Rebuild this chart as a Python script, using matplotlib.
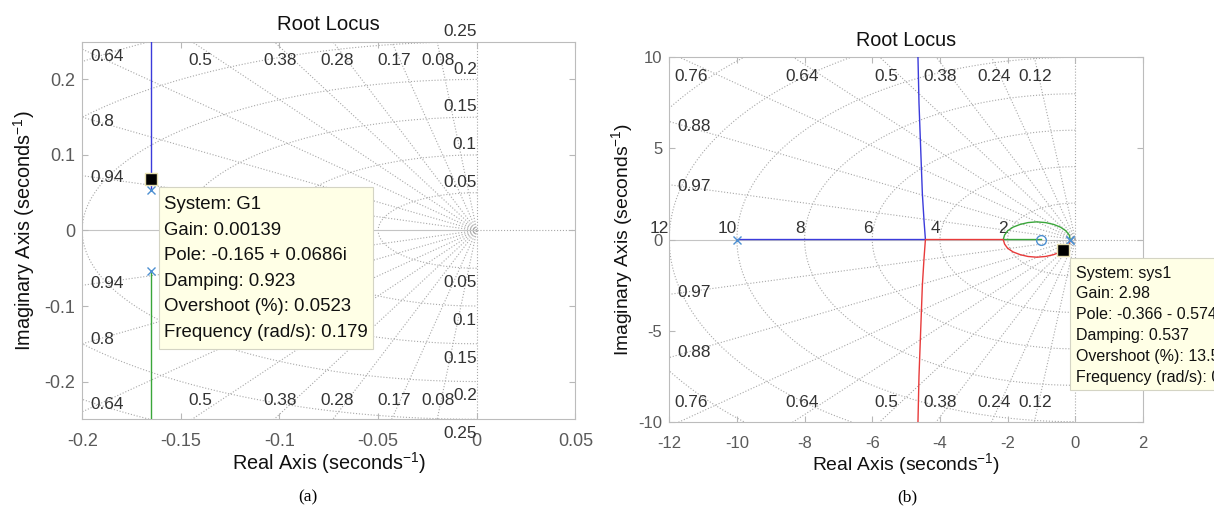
#
# Two root locus plots (MATLAB style) with s-plane grid and data tips.
#

import numpy as np
import matplotlib
matplotlib.use('Agg')
from matplotlib import pyplot as plt
from matplotlib.patches import Rectangle

plt.rcParams['font.family'] = ['Liberation Sans', 'DejaVu Sans']
plt.rcParams['mathtext.fontset'] = 'custom'
plt.rcParams['mathtext.rm'] = 'Liberation Sans'
plt.rcParams['mathtext.it'] = 'Liberation Sans:italic'
plt.rcParams['axes.unicode_minus'] = False

# ---- (a) system G1 ----
a_xlim = [-0.2, 0.05]
a_ylim = [-0.25, 0.25]
a_xticks = [-0.2, -0.15, -0.1, -0.05, 0, 0.05]
a_yticks = [-0.2, -0.1, 0, 0.1, 0.2]
a_zeta = [0.08, 0.17, 0.28, 0.38, 0.5, 0.64, 0.8, 0.94]
a_wn = [0.05, 0.1, 0.15, 0.2, 0.25]
a_wn_nolabel = [0.3]
a_pole_re = [-0.165, -0.165]
a_pole_im = [0.053, -0.053]
a_up_re = [-0.165, -0.165]      # blue branch
a_up_im = [0.053, 0.26]
a_dn_re = [-0.165, -0.165]      # green branch
a_dn_im = [-0.053, -0.26]
a_tip_re = -0.165
a_tip_im = 0.0686
a_tip_text = ['System: G1', 'Gain: 0.00139', 'Pole: -0.165 + 0.0686i',
              'Damping: 0.923', 'Overshoot (%): 0.0523', 'Frequency (rad/s): 0.179']

# ---- (b) system sys1 ----
b_xlim = [-12, 2]
b_ylim = [-10, 10]
b_xticks = [-12, -10, -8, -6, -4, -2, 0, 2]
b_yticks = [-10, -5, 0, 5, 10]
b_zeta = [0.12, 0.24, 0.38, 0.5, 0.64, 0.76, 0.88, 0.97]
b_wn = [2, 4, 6, 8, 10, 12]
b_wn_nolabel = [14]
b_pole_re = [-10, -0.15, -0.15]
b_pole_im = [0, 0, 0]
b_zero_re = [-1.0]
b_zero_im = [0]
# blue: pole at -10 -> breakaway -> up
b_blue_re = [-10, -4.43, -4.47, -4.52, -4.57, -4.62, -4.65, -4.67]
b_blue_im = [0, 0, 1, 2.5, 5, 7.5, 10, 11]
# arc from the poles near the origin to the break-in point at -2.13
arc_re = [-0.15, -0.18, -0.28, -0.44, -0.64, -0.88, -1.14, -1.40, -1.63, -1.84, -2.0, -2.09, -2.13]
arc_im = [0, 0.25, 0.48, 0.68, 0.83, 0.93, 0.97, 0.93, 0.83, 0.68, 0.48, 0.25, 0]
b_green_re = arc_re + [-1.0]
b_green_im = arc_im + [0]
b_red_re = arc_re + [-4.43, -4.47, -4.52, -4.57, -4.62, -4.65, -4.67]
b_red_im = [-v for v in arc_im] + [0, -1, -2.5, -5, -7.5, -10, -11]
b_tip_re = -0.366
b_tip_im = -0.574
b_tip_text = ['System: sys1', 'Gain: 2.98', 'Pole: -0.366 - 0.574i',
              'Damping: 0.537', 'Overshoot (%): 13.5', 'Frequency (rad/s): 0.681']

gridc = '#a8a8a8'
labc = '#333333'
xc = '#4d8fd1'


def sgrid(ax, zetas, wns, xlim, ylim):
    big = 3 * np.hypot(xlim[0], ylim[1])
    for z in zetas:
        s = np.sqrt(1 - z * z)
        for sg in (1, -1):
            ax.plot([0, -big * z], [0, sg * big * s], ls=':', lw=0.8, color=gridc, zorder=1)
    th = np.linspace(np.pi / 2, 3 * np.pi / 2, 300)
    for w in wns:
        ax.plot(w * np.cos(th), w * np.sin(th), ls=':', lw=0.8, color=gridc, zorder=1)
    ax.plot([-big, 0], [0, 0], ls='-', lw=0.8, color='#c4c4c4', zorder=1)
    ax.plot([0, big], [0, 0], ls=':', lw=0.8, color=gridc, zorder=1)
    ax.plot([0, 0], [-big, big], ls=':', lw=0.8, color=gridc, zorder=1)


def damping_labels(ax, zetas, xlim, ylim, fs):
    xl, yt = xlim[0], ylim[1]
    for z in zetas:
        s = np.sqrt(1 - z * z)
        y_edge = -xl * s / z
        for sg in (1, -1):
            if y_edge < yt:
                ax.annotate('%g' % z, xy=(xl, sg * 0.96 * y_edge), xytext=(6, 0),
                            textcoords='offset points', ha='left', va='center',
                            fontsize=fs, color=labc, zorder=3)
            else:
                x_top = -yt * z / s
                ax.annotate('%g' % z, xy=(0.97 * x_top, sg * yt), xytext=(0, -sg * 13.5),
                            textcoords='offset points', ha='center', va='center',
                            fontsize=fs, color=labc, zorder=3)


def freq_labels(ax, wns, mode, fs):
    for w in wns:
        if mode == 'imag':
            ax.annotate('%g' % w, xy=(0, w), xytext=(0, 7.5), textcoords='offset points',
                        ha='right', va='center', fontsize=fs, color=labc, zorder=3)
            ax.annotate('%g' % w, xy=(0, -w), xytext=(0, -10.4), textcoords='offset points',
                        ha='right', va='center', fontsize=fs, color=labc, zorder=3)
        else:
            ax.annotate('%g' % w, xy=(-w, 0), xytext=(0, 8), textcoords='offset points',
                        ha='right', va='center', fontsize=fs, color=labc, zorder=3)


def data_tip(ax, x, y, lines, box, xt, y0, dy, fs):
    ax.plot(x, y, 's', color='k', ms=8, mec='#e6dfb0', mew=1, zorder=6)
    ax.add_patch(Rectangle((box[0], box[1]), box[2], box[3], transform=ax.transAxes,
                           fc='#ffffe6', ec='#d4d4c4', lw=0.8, zorder=7, clip_on=False))
    for i, t in enumerate(lines):
        ax.text(xt, y0 - i * dy, t, transform=ax.transAxes, fontsize=fs, ha='left',
                va='center', color='#111111', zorder=8, clip_on=False)


def style_axes(ax, xlim, ylim, xt, yt, tfs, lfs, ylp):
    ax.set_xlim(xlim)
    ax.set_ylim(ylim)
    ax.set_xticks(xt)
    ax.set_xticklabels(['%g' % v for v in xt])
    ax.set_yticks(yt)
    ax.set_yticklabels(['%g' % v for v in yt])
    ax.tick_params(direction='in', length=4, width=0.8, color='#b8b8b8', labelcolor='#5a5a5a',
                   labelsize=tfs, top=True, right=True)
    ax.tick_params(axis='x', pad=10)
    ax.tick_params(axis='y', pad=5)
    for sp in ax.spines.values():
        sp.set_color('#bcbcbc')
        sp.set_linewidth(0.8)
    ax.set_title('Root Locus', fontsize=lfs + 0.3, pad=8.5, color='#111111')
    ax.set_xlabel('Real Axis (seconds$^{-1}$)', fontsize=lfs, labelpad=0, color='#111111')
    ax.set_ylabel('Imaginary Axis (seconds$^{-1}$)', fontsize=lfs, labelpad=ylp, color='#111111')


fig = plt.figure(figsize=(12.14, 5.07), dpi=100)
axA = fig.add_axes([0.0677, 0.1730, 0.4063, 0.7448])
axB = fig.add_axes([0.5513, 0.1682, 0.3902, 0.7187])

# (a)
sgrid(axA, a_zeta, a_wn + a_wn_nolabel, a_xlim, a_ylim)
axA.plot(a_up_re, a_up_im, color='#3b3bdb', lw=1, zorder=4)
axA.plot(a_dn_re, a_dn_im, color='#3aa63a', lw=1, zorder=4)
axA.plot(a_pole_re, a_pole_im, 'x', color=xc, ms=6, mew=1, zorder=5)
style_axes(axA, a_xlim, a_ylim, a_xticks, a_yticks, 13, 14.3, 5)
damping_labels(axA, a_zeta, a_xlim, a_ylim, 12.4)
freq_labels(axA, a_wn, 'imag', 12.4)
data_tip(axA, a_tip_re, a_tip_im, a_tip_text, (0.155, 0.186, 0.434, 0.430),
         0.1666, 0.5675, 0.0673, 13.4)

# (b)
sgrid(axB, b_zeta, b_wn + b_wn_nolabel, b_xlim, b_ylim)
axB.plot(b_blue_re, b_blue_im, color='#3b3bdb', lw=1, zorder=4)
axB.plot(b_green_re, b_green_im, color='#3aa63a', lw=1, zorder=4)
axB.plot(b_red_re, b_red_im, color='#e83a3a', lw=1, zorder=4)
axB.plot(b_pole_re, b_pole_im, 'x', color=xc, ms=6, mew=1, zorder=5)
axB.plot(b_zero_re, b_zero_im, 'o', mfc='none', mec=xc, ms=7, mew=1, zorder=5)
style_axes(axB, b_xlim, b_ylim, b_xticks, b_yticks, 12, 13.9, 2.5)
damping_labels(axB, b_zeta, b_xlim, b_ylim, 12.4)
freq_labels(axB, b_wn, 'real', 12.4)
data_tip(axB, b_tip_re, b_tip_im, b_tip_text, (0.8455, 0.087, 0.40, 0.3614),
         0.858, 0.408, 0.0571, 11.5)

fig.text(307.8 / 1214, 1 - 497 / 507, '(a)', ha='center', va='center',
         family='Liberation Serif', fontsize=12.5)
fig.text(907.4 / 1214, 1 - 497 / 507, '(b)', ha='center', va='center',
         family='Liberation Serif', fontsize=12.5)

plt.savefig('out.png', dpi=100)
